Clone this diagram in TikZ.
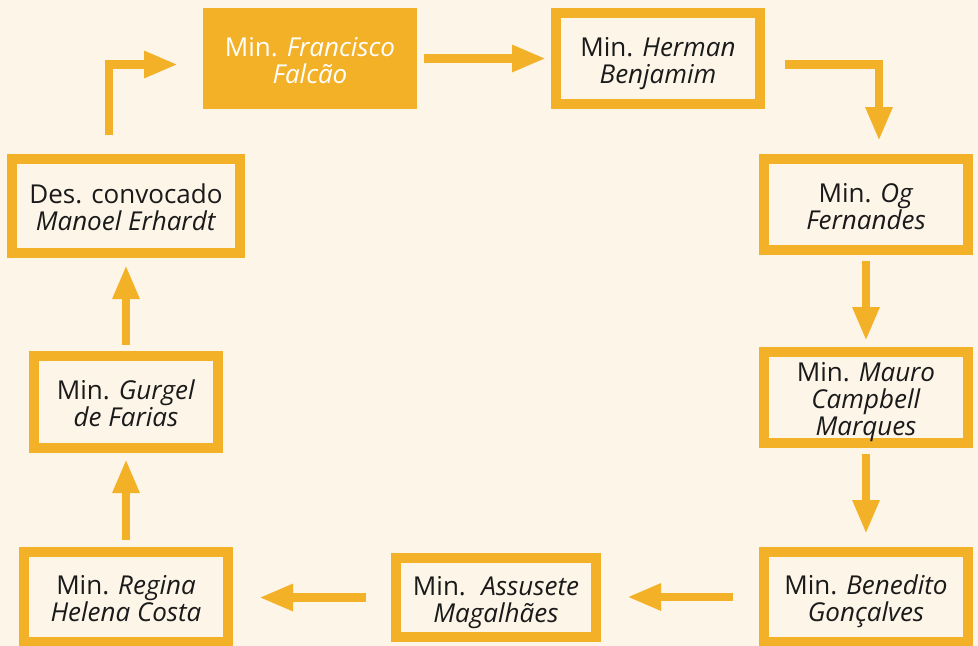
\documentclass[tikz,border=0pt]{standalone}
\usepackage{fontspec}
\setmainfont{Open Sans}
\usetikzlibrary{arrows.meta,calc}
\definecolor{bg}{HTML}{FCF5E8}
\definecolor{org}{HTML}{F3B128}
\definecolor{txt}{HTML}{1A1A1A}
\newcommand\fst{\rule{0pt}{17pt}}
\newcommand\lst[1]{\smash{#1}}
\begin{document}
\begin{tikzpicture}[x=0.75pt,y=-0.75pt,
  box/.style={draw=org, line width=7.5pt, fill=bg, align=center, text=txt,
    font=\fontsize{19.5}{20.25}\selectfont, inner sep=0pt},
  fbox/.style={box, fill=org, text=white},
  conn/.style={draw=org, line width=6.4pt, -{Triangle[length=25.5pt,width=18.75pt]}},
]
\fill[bg] (0,0) rectangle (978,646);
\useasboundingbox (0,0) rectangle (978,646);

\node[fbox, minimum width=153pt, minimum height=68.25pt] (fal) at (310,58.5) {\fst Min. \textit{Francisco}\\\lst{\textit{Falcão}}};
\node[box, minimum width=153pt, minimum height=68.25pt] (her) at (658,58.5) {\fst Min. \textit{Herman}\\\lst{\textit{Benjamim}}};
\node[box, minimum width=153pt, minimum height=68.25pt] (og) at (866,204.5) {\fst Min. \textit{Og}\\\lst{\textit{Fernandes}}};
\node[box, minimum width=153pt, minimum height=68.25pt] (mau) at (866,397.5) {\fst Min. \textit{Mauro}\\\textit{Campbell}\\\lst{\textit{Marques}}};
\node[box, minimum width=153pt, minimum height=67.5pt] (ben) at (866,597) {\fst Min. \textit{Benedito}\\\lst{\textit{Gonçalves}}};
\node[box, minimum width=150pt, minimum height=59.25pt] (ass) at (496,597.5) {\fst Min.\hspace{0.25em} \textit{Assusete}\\\lst{\textit{Magalhães}}};
\node[box, minimum width=153pt, minimum height=67.5pt] (reg) at (126,597) {\fst Min. \textit{Regina}\\\lst{\textit{Helena Costa}}};
\node[box, minimum width=138pt, minimum height=69pt] (gur) at (126,402) {\fst Min. \textit{Gurgel}\\\lst{\textit{de Farias}}};
\node[box, minimum width=171pt, minimum height=70.5pt] (erh) at (126,206) {\fst Des. convocado\\\lst{\textit{Manoel Erhardt}}};

\draw[conn] ([shift={(-17,-19)}]erh.north) |- ([shift={(-25,6)}]fal.west);
\draw[conn, shorten <=5.25pt, shorten >=3.75pt] (fal.east) -- (her.west);
\draw[conn] ([shift={(20,6)}]her.east) -| ([shift={(13,-13)}]og.north);
\draw[conn, shorten <=4.5pt, shorten >=4.5pt] (og.south) -- (mau.north);
\draw[conn, shorten <=4.5pt, shorten >=9.75pt] (mau.south) -- (ben.north);
\draw[conn, shorten <=19.5pt, shorten >=19.5pt] (ben.west) -- (ben.west -| ass.east);
\draw[conn, shorten <=18.75pt, shorten >=19.5pt] (ass.west) -- (ass.west -| reg.east);
\draw[conn, shorten <=5.25pt, shorten >=4.5pt] (reg.north) -- (gur.south);
\draw[conn, shorten <=4.5pt, shorten >=5.25pt] (gur.north) -- (erh.south);
\end{tikzpicture}
\end{document}
